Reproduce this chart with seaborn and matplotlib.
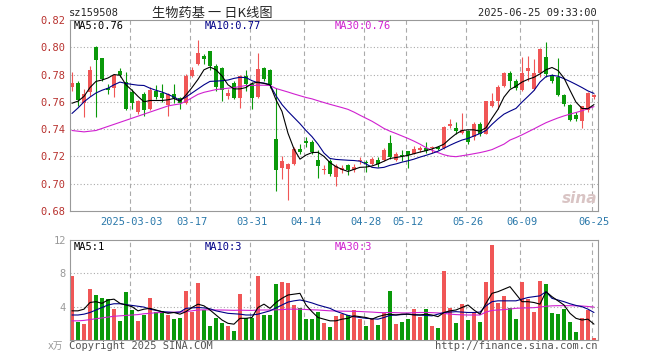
import numpy as np
import matplotlib
matplotlib.use('Agg')
import matplotlib.pyplot as plt
import seaborn as sns

# --- 日K數據 ---
opens = [0.7712, 0.7737, 0.7590, 0.7670, 0.8005, 0.7920, 0.7704, 0.7705, 0.7828, 0.7744,
         0.7670, 0.7524, 0.7658, 0.7549, 0.7683, 0.7662, 0.7578, 0.7660, 0.7625, 0.7590,
         0.7793, 0.7880, 0.7933, 0.7972, 0.7862, 0.7850, 0.7644, 0.7735, 0.7630, 0.7787,
         0.7730, 0.7639, 0.7849, 0.7830, 0.7329, 0.7117, 0.7110, 0.7146, 0.7256, 0.7312,
         0.7305, 0.7176, 0.7102, 0.7170, 0.7049, 0.7098, 0.7139, 0.7098, 0.7166, 0.7160,
         0.7146, 0.7176, 0.7176, 0.7298, 0.7176, 0.7212, 0.7237, 0.7220, 0.7249, 0.7261,
         0.7261, 0.7270, 0.7263, 0.7425, 0.7407, 0.7375, 0.7388, 0.7339, 0.7441, 0.7368,
         0.7571, 0.7608, 0.7718, 0.7809, 0.7755, 0.7686, 0.7829, 0.7694, 0.7810, 0.7927,
         0.7792, 0.7780, 0.7653, 0.7580, 0.7507, 0.7463, 0.7537, 0.7639]
closes = [0.7737, 0.7613, 0.7654, 0.7830, 0.7910, 0.7768, 0.7690, 0.7798, 0.7797, 0.7549,
          0.7590, 0.7605, 0.7541, 0.7688, 0.7637, 0.7628, 0.7660, 0.7628, 0.7595, 0.7790,
          0.7832, 0.7960, 0.7915, 0.7862, 0.7710, 0.7688, 0.7664, 0.7630, 0.7787, 0.7733,
          0.7627, 0.7841, 0.7768, 0.7725, 0.7098, 0.7170, 0.7141, 0.7256, 0.7232, 0.7300,
          0.7232, 0.7127, 0.7110, 0.7073, 0.7127, 0.7117, 0.7098, 0.7122, 0.7173, 0.7151,
          0.7183, 0.7146, 0.7249, 0.7195, 0.7220, 0.7200, 0.7207, 0.7256, 0.7263, 0.7237,
          0.7270, 0.7253, 0.7417, 0.7437, 0.7383, 0.7392, 0.7309, 0.7441, 0.7363, 0.7603,
          0.7608, 0.7712, 0.7809, 0.7755, 0.7701, 0.7809, 0.7848, 0.7809, 0.7988, 0.7804,
          0.7750, 0.7653, 0.7585, 0.7468, 0.7476, 0.7566, 0.7663, 0.7651]
highs = [0.7817, 0.7751, 0.7693, 0.7866, 0.8008, 0.7925, 0.7730, 0.7805, 0.7850, 0.7817,
         0.7695, 0.7615, 0.7670, 0.7707, 0.7725, 0.7730, 0.7665, 0.7730, 0.7635, 0.7805,
         0.7854, 0.8050, 0.7952, 0.7975, 0.7878, 0.7852, 0.7694, 0.7755, 0.7795, 0.7835,
         0.7745, 0.7960, 0.7855, 0.7840, 0.7700, 0.7200, 0.7150, 0.7268, 0.7293, 0.7346,
         0.7318, 0.7244, 0.7134, 0.7180, 0.7146, 0.7134, 0.7146, 0.7146, 0.7195, 0.7175,
         0.7195, 0.7195, 0.7263, 0.7354, 0.7232, 0.7244, 0.7240, 0.7280, 0.7280, 0.7305,
         0.7280, 0.7280, 0.7425, 0.7478, 0.7449, 0.7515, 0.7393, 0.7449, 0.7449, 0.7608,
         0.7662, 0.7720, 0.7817, 0.7829, 0.7768, 0.7927, 0.7939, 0.7915, 0.7995, 0.8037,
         0.7805, 0.7922, 0.7658, 0.7585, 0.7524, 0.7573, 0.7670, 0.7659]
lows = [0.7683, 0.7573, 0.7488, 0.7646, 0.7490, 0.7756, 0.7657, 0.7635, 0.7785, 0.7537,
        0.7549, 0.7512, 0.7500, 0.7537, 0.7622, 0.7598, 0.7500, 0.7590, 0.7549, 0.7585,
        0.7780, 0.7870, 0.7875, 0.7835, 0.7683, 0.7605, 0.7620, 0.7620, 0.7552, 0.7680,
        0.7546, 0.7630, 0.7756, 0.7700, 0.6950, 0.7036, 0.6878, 0.7134, 0.7220, 0.7268,
        0.7220, 0.7040, 0.7073, 0.7060, 0.6980, 0.7078, 0.7063, 0.7085, 0.7146, 0.7085,
        0.7134, 0.7122, 0.7170, 0.7183, 0.7168, 0.7170, 0.7117, 0.7215, 0.7236, 0.7225,
        0.7224, 0.7244, 0.7256, 0.7405, 0.7363, 0.7363, 0.7294, 0.7319, 0.7351, 0.7363,
        0.7563, 0.7549, 0.7712, 0.7700, 0.7686, 0.7683, 0.7755, 0.7686, 0.7785, 0.7785,
        0.7736, 0.7646, 0.7566, 0.7458, 0.7463, 0.7410, 0.7524, 0.7622]

# 均線
ma5 = [0.7590, 0.7605, 0.7640, 0.7705, 0.7750, 0.7760, 0.7775, 0.7800, 0.7795, 0.7725,
       0.7685, 0.7640, 0.7600, 0.7610, 0.7610, 0.7610, 0.7615, 0.7625, 0.7605, 0.7650,
       0.7705, 0.7765, 0.7835, 0.7855, 0.7835, 0.7790, 0.7725, 0.7695, 0.7695, 0.7705,
       0.7735, 0.7745, 0.7735, 0.7725, 0.7615, 0.7530, 0.7370, 0.7255, 0.7180, 0.7210,
       0.7228, 0.7230, 0.7200, 0.7155, 0.7125, 0.7105, 0.7090, 0.7105, 0.7120, 0.7122,
       0.7130, 0.7145, 0.7165, 0.7185, 0.7192, 0.7200, 0.7208, 0.7220, 0.7232, 0.7242,
       0.7255, 0.7270, 0.7290, 0.7330, 0.7365, 0.7390, 0.7395, 0.7395, 0.7385, 0.7410,
       0.7480, 0.7545, 0.7635, 0.7690, 0.7715, 0.7745, 0.7765, 0.7780, 0.7805, 0.7835,
       0.7852, 0.7830, 0.7775, 0.7685, 0.7598, 0.7552, 0.7550, 0.7580]
ma10 = [0.7515, 0.7555, 0.7600, 0.7635, 0.7665, 0.7685, 0.7700, 0.7725, 0.7745, 0.7735,
        0.7728, 0.7722, 0.7720, 0.7700, 0.7685, 0.7672, 0.7655, 0.7635, 0.7612, 0.7635,
        0.7665, 0.7695, 0.7725, 0.7750, 0.7752, 0.7755, 0.7760, 0.7772, 0.7780, 0.7778,
        0.7755, 0.7740, 0.7738, 0.7725, 0.7645, 0.7580, 0.7530, 0.7485, 0.7440, 0.7390,
        0.7345, 0.7290, 0.7225, 0.7185, 0.7178, 0.7175, 0.7172, 0.7170, 0.7165, 0.7145,
        0.7120, 0.7115, 0.7120, 0.7135, 0.7145, 0.7158, 0.7168, 0.7180, 0.7195, 0.7208,
        0.7222, 0.7238, 0.7260, 0.7282, 0.7302, 0.7320, 0.7332, 0.7350, 0.7368, 0.7390,
        0.7435, 0.7475, 0.7510, 0.7532, 0.7552, 0.7598, 0.7640, 0.7683, 0.7745, 0.7785,
        0.7795, 0.7788, 0.7770, 0.7750, 0.7728, 0.7705, 0.7680, 0.7662]
ma30 = [0.7390, 0.7385, 0.7380, 0.7385, 0.7390, 0.7405, 0.7420, 0.7435, 0.7450, 0.7465,
        0.7480, 0.7495, 0.7510, 0.7525, 0.7540, 0.7555, 0.7570, 0.7578, 0.7585, 0.7605,
        0.7630, 0.7655, 0.7670, 0.7680, 0.7690, 0.7695, 0.7700, 0.7705, 0.7712, 0.7720,
        0.7720, 0.7722, 0.7722, 0.7720, 0.7698, 0.7685, 0.7672, 0.7658, 0.7645, 0.7632,
        0.7622, 0.7608, 0.7595, 0.7582, 0.7570, 0.7558, 0.7545, 0.7525, 0.7502, 0.7480,
        0.7458, 0.7432, 0.7405, 0.7385, 0.7368, 0.7350, 0.7332, 0.7312, 0.7290, 0.7265,
        0.7245, 0.7228, 0.7212, 0.7202, 0.7198, 0.7205, 0.7212, 0.7220, 0.7228, 0.7238,
        0.7250, 0.7270, 0.7290, 0.7320, 0.7338, 0.7358, 0.7380, 0.7402, 0.7425, 0.7447,
        0.7465, 0.7482, 0.7497, 0.7510, 0.7522, 0.7535, 0.7550, 0.7565]

# 成交量 (萬手)
vols = [7.72, 2.20, 1.92, 6.12, 5.40, 5.08, 4.92, 3.72, 2.28, 5.80,
        3.60, 2.28, 3.00, 5.08, 3.32, 3.48, 3.00, 2.52, 2.68, 5.88,
        3.32, 6.88, 3.60, 1.72, 2.68, 2.08, 1.72, 1.08, 5.52, 2.68,
        2.68, 7.72, 3.00, 3.00, 6.72, 7.00, 6.88, 4.20, 3.88, 2.52,
        2.52, 3.32, 2.08, 1.60, 2.92, 3.08, 3.00, 3.60, 2.52, 1.72,
        2.52, 1.80, 3.20, 5.88, 1.92, 2.20, 2.52, 3.72, 2.80, 3.72,
        1.72, 1.40, 8.28, 3.88, 2.08, 4.32, 2.40, 3.32, 2.20, 7.00,
        11.40, 4.48, 5.32, 3.88, 2.52, 7.00, 4.92, 3.40, 7.12, 6.72,
        3.28, 3.12, 3.72, 2.20, 1.00, 2.60, 3.60, 0.28]
vma5 = [3.5, 3.5, 3.7, 4.5, 4.6, 4.4, 4.8, 4.9, 4.4, 4.2,
        4.0, 3.5, 3.7, 3.8, 3.6, 3.4, 3.2, 3.3, 3.1, 3.4,
        3.9, 4.3, 4.1, 3.6, 3.0, 2.4, 2.0, 1.9, 2.6, 2.6,
        2.7, 3.9, 4.3, 3.8, 4.5, 5.0, 5.4, 5.5, 5.6, 4.2,
        3.4, 2.7, 2.5, 2.3, 2.3, 2.5, 2.6, 2.9, 2.8, 2.7,
        2.5, 2.8, 3.0, 3.1, 3.0, 3.1, 3.1, 3.0, 3.0, 3.1,
        3.0, 2.8, 3.3, 3.5, 3.6, 3.9, 4.2, 3.6, 3.1, 4.4,
        5.6, 5.8, 6.1, 6.4, 5.5, 4.6, 4.6, 4.5, 4.3, 5.8,
        5.2, 4.7, 4.2, 3.2, 2.6, 2.4, 2.5, 1.9]
vma10 = [3.0, 3.0, 3.1, 3.3, 3.6, 3.9, 4.2, 4.35, 4.35, 4.25,
         4.15, 4.05, 3.95, 3.7, 3.55, 3.4, 3.35, 3.3, 3.35, 3.8,
         3.85, 3.9, 3.85, 3.75, 3.5, 3.35, 3.2, 3.15, 3.1, 3.0,
         3.0, 3.1, 3.3, 3.5, 3.85, 4.2, 4.55, 4.7, 4.8, 4.65,
         4.45, 4.2, 4.0, 3.8, 3.45, 3.2, 2.95, 2.8, 2.7, 2.6,
         2.55, 2.5, 2.7, 2.95, 3.0, 3.05, 3.1, 3.05, 3.0, 2.95,
         2.9, 3.1, 3.3, 3.35, 3.4, 3.35, 3.3, 3.3, 3.35, 4.1,
         4.6, 4.7, 4.7, 4.7, 4.7, 4.9, 5.1, 5.2, 5.3, 5.8,
         5.0, 4.8, 4.6, 4.35, 4.15, 4.0, 3.7, 3.3]
vma30 = [2.3, 2.3, 2.35, 2.45, 2.55, 2.65, 2.75, 2.85, 2.9, 2.95,
         3.0, 3.05, 3.15, 3.2, 3.28, 3.3, 3.32, 3.33, 3.36, 3.4,
         3.5, 3.6, 3.62, 3.62, 3.6, 3.6, 3.58, 3.56, 3.58, 3.56,
         3.55, 3.6, 3.6, 3.6, 3.62, 3.65, 3.7, 3.7, 3.7, 3.66,
         3.62, 3.6, 3.55, 3.5, 3.48, 3.46, 3.45, 3.44, 3.42, 3.38,
         3.35, 3.3, 3.28, 3.3, 3.28, 3.25, 3.25, 3.28, 3.3, 3.3,
         3.28, 3.25, 3.2, 3.1, 3.05, 3.02, 3.0, 3.0, 3.0, 3.35,
         3.55, 3.6, 3.65, 3.72, 3.8, 3.84, 3.86, 3.88, 3.95, 4.05,
         4.1, 4.12, 4.12, 4.12, 4.1, 4.08, 4.02, 3.95]

# 日期刻度 (交易日序號)
tick_idx = [10, 20, 30, 39, 49, 56, 66, 75, 87]
tick_labels = ['2025-03-03', '03-17', '03-31', '04-14', '04-28', '05-12', '05-26', '06-09', '06-25']
price_ticks = [0.68, 0.70, 0.72, 0.74, 0.76, 0.78, 0.80, 0.82]
vol_ticks = [4, 8, 12]

RED = '#f05656'
GREEN = '#0a990a'
GRID = '#aaaaaa'
MONO = 'DejaVu Sans Mono'

sns.set_style('white')
plt.rcParams['font.family'] = [MONO, 'Noto Sans CJK SC']

W, H = 660, 360
fig = plt.figure(figsize=(W / 100, H / 100), dpi=100)


def box(l, t, r, b):
    return [l / W, 1 - b / H, (r - l) / W, (b - t) / H]


ax = fig.add_axes(box(70, 20, 598, 211))
axv = fig.add_axes(box(70, 240, 598, 340))

o = np.array(opens)
c = np.array(closes)
idx = np.arange(len(c))
colors = np.where(c >= o, RED, GREEN)

# --- 主圖: K線 ---
ax.vlines(idx, lows, highs, colors=colors, linewidth=0.8, zorder=2)
body_lo = np.minimum(o, c)
body_h = np.maximum(np.abs(c - o), 0.0007)
ax.bar(idx, body_h, bottom=body_lo, width=0.8, color=colors, linewidth=0, zorder=2)

sns.lineplot(x=idx, y=ma30, ax=ax, color='#d020d0', linewidth=0.8, legend=False, zorder=3)
sns.lineplot(x=idx, y=ma10, ax=ax, color='#000088', linewidth=0.8, legend=False, zorder=3)
sns.lineplot(x=idx, y=ma5, ax=ax, color='black', linewidth=0.8, legend=False, zorder=3)

# --- 副圖: 成交量 ---
axv.bar(idx, vols, width=0.8, color=colors, linewidth=0, zorder=2)
sns.lineplot(x=idx, y=vma30, ax=axv, color='#d020d0', linewidth=0.8, legend=False, zorder=3)
sns.lineplot(x=idx, y=vma10, ax=axv, color='#000088', linewidth=0.8, legend=False, zorder=3)
sns.lineplot(x=idx, y=vma5, ax=axv, color='black', linewidth=0.8, legend=False, zorder=3)

grid_x = [t - 0.3 for t in tick_idx]
for a, ylo, yhi, yt in [(ax, 0.68, 0.82, price_ticks), (axv, 0, 12, vol_ticks)]:
    a.set_xlim(-0.33, 87.67)
    a.set_ylim(ylo, yhi)
    for gx in grid_x:
        a.axvline(gx, color=GRID, linewidth=0.8, linestyle=(0, (4, 3)), zorder=1)
    for gy in yt[1:-1] if a is ax else yt[:-1]:
        a.axhline(gy, color=GRID, linewidth=0.8, linestyle=(0, (1, 2)), zorder=1)
    for s in a.spines.values():
        s.set_color('#999999')
        s.set_linewidth(0.8)
    a.set_xlabel('')
    a.set_ylabel('')

ax.set_yticks(price_ticks)
ax.set_yticklabels([f'{v:.2f}' for v in price_ticks])
ax.tick_params(axis='y', length=0, pad=3, labelsize=7.5, labelcolor='#b8322f')
ax.set_xticks(tick_idx)
ax.set_xticklabels(tick_labels)
ax.tick_params(axis='x', length=0, pad=4, labelsize=7.5, labelcolor='#2a78aa')

axv.set_yticks(vol_ticks)
axv.set_yticklabels([str(v) for v in vol_ticks])
axv.tick_params(axis='y', length=0, pad=3, labelsize=7.5, labelcolor='#999999')
axv.set_xticks([])


def ftext(x, y, s, **kw):
    fig.text(x / W, 1 - y / H, s, va='center', **kw)


# 標題列
ftext(69, 13, 'sz159508', ha='left', fontsize=7.5)
ftext(212, 13, '生物药基 一 日K线图', ha='center', fontsize=9.5,
      family=['Noto Sans CJK SC', 'DejaVu Sans'])
ftext(597, 13, '2025-06-25 09:33:00', ha='right', fontsize=7.5)

# 均線數值
ftext(74, 26, 'MA5:0.76', ha='left', fontsize=7.5, color='black')
ftext(205, 26, 'MA10:0.77', ha='left', fontsize=7.5, color='#000088')
ftext(335, 26, 'MA30:0.76', ha='left', fontsize=7.5, color='#d020d0')
ftext(74, 247, 'MA5:1', ha='left', fontsize=7.5, color='black')
ftext(205, 247, 'MA10:3', ha='left', fontsize=7.5, color='#000088')
ftext(335, 247, 'MA30:3', ha='left', fontsize=7.5, color='#d020d0')

# 底部文字
ftext(63, 346, 'x万', ha='right', fontsize=7, color='#999999',
      family=['DejaVu Sans', 'Noto Sans CJK SC'])
ftext(69, 346, 'Copyright 2025 SINA.COM', ha='left', fontsize=7.5, color='#555555')
ftext(597, 346, 'http://finance.sina.com.cn', ha='right', fontsize=7.5, color='#555555')

# 水印
ftext(580, 198, 'sina', ha='center', fontsize=11, color='#d9c4c4',
      family='DejaVu Sans', style='italic', weight='bold')

fig.savefig('out.png', dpi=100)
